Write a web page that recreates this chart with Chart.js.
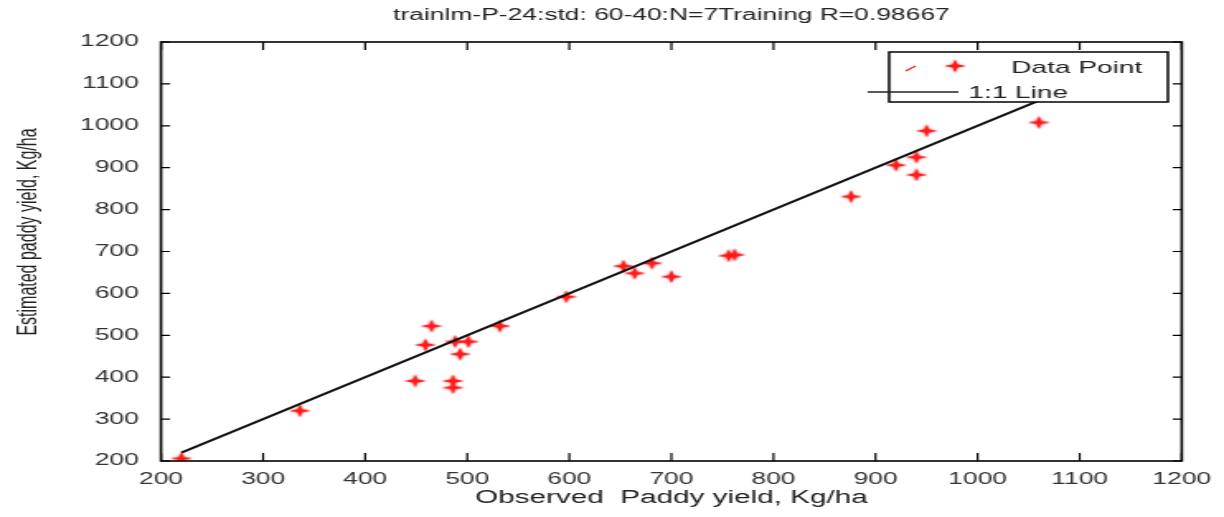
<!DOCTYPE html>
<html>
<head>
<meta charset="utf-8">
<script src="https://cdn.jsdelivr.net/npm/chart.js@4"></script>
<style>
  html, body { margin: 0; padding: 0; background: #fff; overflow: hidden; }
  /* the source picture is stretched sideways, so the chart is drawn narrow and widened */
  #wrap { width: 742px; height: 517px; transform: scaleX(1.6496); transform-origin: 0 0; }
</style>
</head>
<body>
<div id="wrap"><canvas id="chart" width="742" height="517"></canvas></div>
<script>
// Observed vs estimated paddy yield (Kg/ha)
const observed  = [220, 336, 449, 465, 459, 488, 501, 493, 486, 486, 532, 597,
                   653, 664, 681, 700, 756, 762, 876, 920, 940, 940, 950, 1060];
const estimated = [206, 320, 391, 522, 477, 485, 485, 455, 391, 375, 522, 592,
                   665, 648, 672, 640, 690, 692, 831, 906, 925, 883, 988, 1008];

// 1:1 reference line
const lineX = [220, 1060];
const lineY = [220, 1060];

// axis ticks
const tickValues = [200, 300, 400, 500, 600, 700, 800, 900, 1000, 1100, 1200];

const FONT = '"Liberation Sans", Arial, sans-serif';
const RED = '#ff1a1a';

// 4-point star marker, a bit soft like the original
function makeMarker() {
    const c = document.createElement('canvas');
    c.width = 16; c.height = 16;
    const g = c.getContext('2d');
    const cx = 8, cy = 8, outer = 6.5, inner = 2.2;
    g.shadowColor = 'rgba(255,0,0,0.7)';
    g.shadowBlur = 2;
    g.fillStyle = RED;
    g.beginPath();
    for (let i = 0; i < 8; i++) {
        const r = i % 2 === 0 ? outer : inner;
        const ang = i * Math.PI / 4;
        g.lineTo(cx + r * Math.cos(ang), cy + r * Math.sin(ang));
    }
    g.closePath();
    g.fill();
    return c;
}
const marker = makeMarker();

// box round the plot, inward ticks, y title and the legend box
const frameAndLegend = {
    id: 'frameAndLegend',
    afterDraw(chart) {
        const ctx = chart.ctx;
        const a = chart.chartArea;
        const xs = chart.scales.x, ys = chart.scales.y;
        ctx.save();
        ctx.strokeStyle = '#000';
        ctx.lineWidth = 1.2;
        tickValues.forEach(v => {
            const px = xs.getPixelForValue(v);
            ctx.beginPath();
            ctx.moveTo(px, a.bottom); ctx.lineTo(px, a.bottom - 8);
            ctx.moveTo(px, a.top); ctx.lineTo(px, a.top + 8);
            ctx.stroke();
            const py = ys.getPixelForValue(v);
            ctx.beginPath();
            ctx.moveTo(a.left, py); ctx.lineTo(a.left + 5.5, py);
            ctx.moveTo(a.right, py); ctx.lineTo(a.right - 5.5, py);
            ctx.stroke();
        });
        ctx.lineWidth = 1.6;
        ctx.strokeRect(a.left, a.top, a.right - a.left, a.bottom - a.top);

        // y axis title
        ctx.save();
        ctx.translate(18, 232);
        ctx.rotate(-Math.PI / 2);
        ctx.fillStyle = '#222';
        ctx.font = '16px ' + FONT;
        ctx.textAlign = 'center';
        ctx.textBaseline = 'middle';
        ctx.fillText('Estimated paddy yield, Kg/ha', 0, 0);
        ctx.restore();

        // legend
        ctx.fillStyle = '#fff';
        ctx.fillRect(539, 52, 169, 50);
        ctx.lineWidth = 1.5;
        ctx.strokeRect(539, 52, 169, 50);

        ctx.strokeStyle = RED;
        ctx.lineWidth = 1.2;
        ctx.beginPath();
        ctx.moveTo(549, 71); ctx.lineTo(555, 66);
        ctx.stroke();
        ctx.drawImage(marker, 579 - 8, 66 - 8);

        ctx.strokeStyle = '#222';
        ctx.lineWidth = 1.6;
        ctx.beginPath();
        ctx.moveTo(526, 92); ctx.lineTo(581, 92);
        ctx.stroke();

        ctx.fillStyle = '#222';
        ctx.font = '17px ' + FONT;
        ctx.textAlign = 'left';
        ctx.textBaseline = 'middle';
        ctx.fillText('Data Point', 613, 68);
        ctx.fillText('1:1 Line', 587, 93);
        ctx.restore();
    }
};

new Chart(document.getElementById('chart'), {
    type: 'scatter',
    data: {
        datasets: [
            {
                type: 'line',
                label: '1:1 Line',
                data: lineX.map((x, i) => ({ x: x, y: lineY[i] })),
                borderColor: '#111',
                borderWidth: 2,
                pointRadius: 0,
                fill: false
            },
            {
                label: 'Data Point',
                data: observed.map((x, i) => ({ x: x, y: estimated[i] })),
                pointStyle: marker,
                pointRadius: 6,
                borderColor: RED,
                backgroundColor: RED
            }
        ]
    },
    options: {
        responsive: false,
        animation: false,
        layout: { padding: { left: 0, right: 25.6, top: 0, bottom: 0 } },
        plugins: {
            legend: { display: false },
            tooltip: { enabled: false },
            title: {
                display: true,
                fullSize: false,
                text: 'trainlm-P-24:std: 60-40:N=7Training R=0.98667',
                color: '#222',
                font: { family: FONT, size: 16, weight: 'normal' },
                padding: { top: 6, bottom: 16.8 }
            }
        },
        scales: {
            x: {
                type: 'linear',
                min: 200, max: 1200,
                afterBuildTicks: s => { s.ticks = tickValues.map(v => ({ value: v })); },
                afterFit: s => { s.height = 56; },
                grid: { display: false },
                border: { display: false },
                ticks: {
                    color: '#333', padding: 1, maxRotation: 0,
                    font: { family: FONT, size: 16 },
                    callback: v => String(v)
                },
                title: {
                    display: true,
                    text: 'Observed  Paddy yield, Kg/ha',
                    color: '#222',
                    font: { family: FONT, size: 18 },
                    padding: { top: 0, bottom: 8 }
                }
            },
            y: {
                type: 'linear',
                min: 200, max: 1200,
                afterBuildTicks: s => { s.ticks = tickValues.map(v => ({ value: v })); },
                afterFit: s => { s.width = 97.6; },
                grid: { display: false },
                border: { display: false },
                ticks: {
                    color: '#333', padding: 5.5,
                    font: { family: FONT, size: 16 },
                    callback: v => String(v)
                }
            }
        }
    },
    plugins: [frameAndLegend]
});
</script>
</body>
</html>
